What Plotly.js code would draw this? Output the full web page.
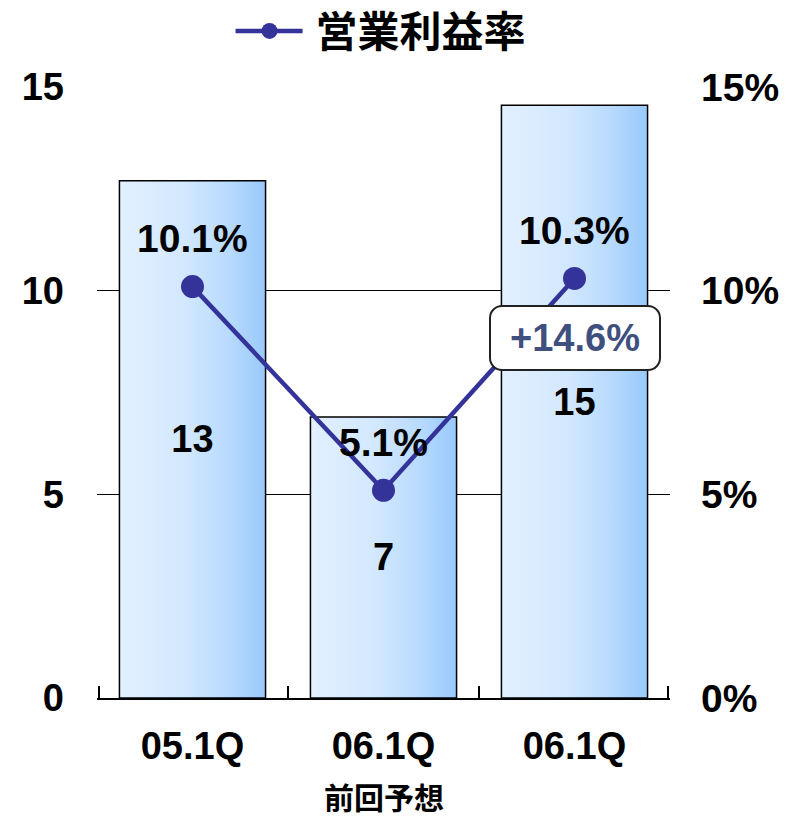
<!DOCTYPE html>
<html>
<head>
<meta charset="utf-8">
<script src="https://cdn.plot.ly/plotly-3.0.1.min.js"></script>
<style>
html,body{margin:0;padding:0;background:#fff;}
#chart{width:793px;height:818px;}
</style>
</head>
<body>
<div id="chart"></div>
<script>
// ---- data ----
var categories = ['05.1Q', '06.1Q', '06.1Q'];
var subLabels = ['', '前回予想', ''];
var operatingProfit = [12.7, 6.9, 14.55];
var marginRate = [0.101, 0.051, 0.103];
var marginLabels = ['10.1%', '5.1%', '10.3%'];
var growthLabel = '+14.6%';
var seriesName = '営業利益率';
var leftTicks = [0, 5, 10, 15];
var rightTicks = [0, 0.05, 0.10, 0.15];
var boundaryTicks = [-0.488, 0.5, 1.5, 2.488];

var FONT = 'Liberation Sans, Arial, "Noto Sans CJK JP", sans-serif';
var CJK = '"Noto Sans CJK JP", "Liberation Sans", sans-serif';
var FS = 38;
var idx = categories.map(function (c, i) { return i; });

var bars = {
  type: 'bar',
  x: idx,
  y: operatingProfit,
  width: 0.765,
  marker: { color: '#c6e1fd', line: { color: '#000', width: 1.5 } },
  texttemplate: '%{y:.0f}',
  textposition: 'inside',
  insidetextanchor: 'middle',
  textangle: 0,
  textfont: { family: FONT, size: FS, color: '#000', weight: 'bold' },
  showlegend: false,
  hoverinfo: 'skip'
};

var line = {
  type: 'scatter',
  mode: 'lines+markers',
  x: idx,
  y: marginRate,
  yaxis: 'y2',
  name: seriesName,
  line: { color: '#333399', width: 4.5 },
  marker: { color: '#333399', size: 23 },
  hoverinfo: 'skip'
};

// invisible trace on the overlay axis that carries the boundary tick marks
var tickCarrier = {
  type: 'scatter', mode: 'markers',
  x: boundaryTicks, y: boundaryTicks.map(function () { return 0; }),
  xaxis: 'x2', marker: { opacity: 0 }, showlegend: false, hoverinfo: 'skip'
};

var annotations = idx.map(function (i) {
  return {
    x: i, y: marginRate[i], xref: 'x', yref: 'y2',
    text: marginLabels[i], showarrow: false,
    yshift: 48,
    font: { family: FONT, size: 39, color: '#000', weight: 'bold' }
  };
});
subLabels.forEach(function (s, i) {
  if (!s) return;
  annotations.push({
    x: i, xref: 'x', y: -0.161, yref: 'paper', yanchor: 'middle',
    text: s, showarrow: false,
    font: { family: CJK, size: 30, color: '#000', weight: 'bold' }
  });
});
annotations.push({
  x: 2, xref: 'x', y: 8.85, yref: 'y',
  text: growthLabel, showarrow: false,
  width: 150, height: 44,
  bgcolor: '#fff', bordercolor: '#222', borderwidth: 2, borderpad: 9,
  font: { family: FONT, size: FS, color: '#3f507e', weight: 'bold' }
});

var layout = {
  width: 793, height: 818,
  margin: { l: 97, r: 123, t: 87, b: 120 },
  paper_bgcolor: '#fff', plot_bgcolor: '#fff',
  font: { family: FONT, size: FS, color: '#000', weight: 'bold' },
  bargap: 0.235,
  xaxis: {
    type: 'category',
    range: [-0.5, 2.5],
    tickvals: idx,
    ticktext: categories,
    ticks: '',
    showline: true, linecolor: '#000', linewidth: 2,
    showgrid: false, zeroline: false,
    tickfont: { family: FONT, size: FS, color: '#000', weight: 'bold' },
    ticklabelstandoff: 13,
    fixedrange: true
  },
  xaxis2: {
    overlaying: 'x', anchor: 'y', side: 'bottom',
    type: 'linear', range: [-0.5, 2.5],
    tickvals: boundaryTicks,
    ticks: 'inside', ticklen: 12, tickwidth: 2, tickcolor: '#000',
    showticklabels: false, showgrid: false, zeroline: false, showline: false,
    fixedrange: true
  },
  yaxis: {
    range: [0, 15],
    tickvals: leftTicks,
    showgrid: true, gridcolor: '#000', gridwidth: 1,
    zeroline: false, showline: false, ticks: '',
    ticklabelstandoff: 32,
    tickfont: { family: FONT, size: FS, color: '#000', weight: 'bold' },
    fixedrange: true
  },
  yaxis2: {
    overlaying: 'y', side: 'right',
    range: [0, 0.15],
    tickvals: rightTicks,
    tickformat: '.0%',
    showgrid: false, zeroline: false, showline: false, ticks: '',
    ticklabelstandoff: 30,
    tickfont: { family: FONT, size: 39, color: '#000', weight: 'bold' },
    fixedrange: true
  },
  legend: {
    orientation: 'h', x: 0.535, xanchor: 'center',
    yref: 'container', y: 0.962, yanchor: 'middle',
    font: { family: CJK, size: 42, color: '#000', weight: 'bold' },
    bgcolor: 'rgba(0,0,0,0)'
  },
  showlegend: true,
  annotations: annotations
};

function restyleSvg(gd) {
  var svg = gd.querySelector('.main-svg');
  var ns = 'http://www.w3.org/2000/svg';
  if (!document.getElementById('barGrad')) {
    var defs = svg.querySelector('defs');
    var grad = document.createElementNS(ns, 'linearGradient');
    grad.setAttribute('id', 'barGrad');
    grad.setAttribute('x1', '0'); grad.setAttribute('y1', '0');
    grad.setAttribute('x2', '1'); grad.setAttribute('y2', '0');
    [['0', '#e2f0ff'], ['0.45', '#d2e8fe'], ['0.75', '#b8dafd'], ['1', '#98c9fb']].forEach(function (s) {
      var st = document.createElementNS(ns, 'stop');
      st.setAttribute('offset', s[0]);
      st.setAttribute('stop-color', s[1]);
      grad.appendChild(st);
    });
    defs.appendChild(grad);
  }
  gd.querySelectorAll('.barlayer .point path').forEach(function (p) {
    p.style.fill = 'url(#barGrad)';
  });
  // rounded corners for the growth call-out box
  gd.querySelectorAll('.annotation rect.bg').forEach(function (r) {
    if (r.getAttribute('stroke-width') && parseFloat(r.getAttribute('stroke-width')) > 0 ||
        (r.style.strokeWidth && parseFloat(r.style.strokeWidth) > 0)) {
      r.setAttribute('rx', 12); r.setAttribute('ry', 12);
    }
  });
  // legend: no clipping, longer line sample with the marker centred on it
  gd.querySelectorAll('g.legend [clip-path]').forEach(function (el) {
    el.removeAttribute('clip-path');
  });
  gd.querySelectorAll('g.legend path.js-line, g.legend .legendlines path').forEach(function (p) {
    p.setAttribute('d', 'M-40,0h67');
  });
  gd.querySelectorAll('g.legend .legendpoints path.scatterpts').forEach(function (p) {
    p.setAttribute('transform', 'translate(-6,0)');
  });
}

Plotly.newPlot('chart', [bars, line, tickCarrier], layout, { displayModeBar: false, staticPlot: true }).then(function (gd) {
  restyleSvg(gd);
  gd.on('plotly_afterplot', function () { restyleSvg(gd); });
  setTimeout(function () { restyleSvg(gd); }, 0);
  setTimeout(function () { restyleSvg(gd); }, 200);
});
</script>
</body>
</html>
